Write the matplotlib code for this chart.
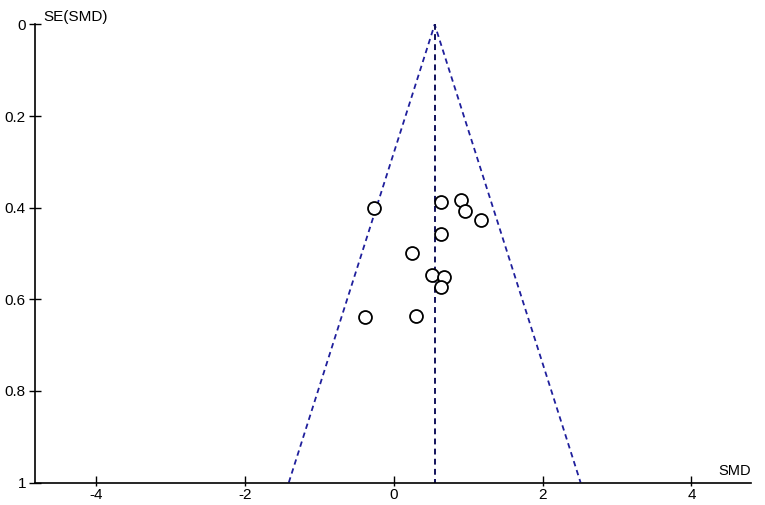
import matplotlib.pyplot as plt

plt.rcParams['font.family'] = ['Liberation Sans', 'DejaVu Sans']

# study effects (SMD) and their standard errors
smd = [-0.27, 0.63, 0.90, 0.96, 1.17, 0.63, 0.24, 0.52, 0.67, 0.63, -0.39, 0.30]
se = [0.401, 0.387, 0.384, 0.408, 0.427, 0.457, 0.500, 0.546, 0.552, 0.574, 0.638, 0.636]
pooled = 0.55
se_max = 1.0

xticks = [-4, -2, 0, 2, 4]
yticks = [0, 0.2, 0.4, 0.6, 0.8, 1]
ylabels = ['0', '0.2', '0.4', '0.6', '0.8', '1']

fig = plt.figure(figsize=(7.65, 5.05), dpi=100)
ax = fig.add_axes([35 / 765, 22.5 / 505, 716 / 765, 458 / 505])

# funnel (95% limits) and pooled estimate
ax.plot([pooled - 1.96 * se_max, pooled, pooled + 1.96 * se_max], [se_max, 0, se_max],
        color='#1f1f9c', ls=(0, (3, 2.2)), lw=1.3)
ax.plot([pooled, pooled], [0, se_max], color='#10105a', ls=(0, (3, 2.2)), lw=1.4)

ax.plot(smd, se, 'o', mfc='white', mec='black', mew=1.3, ms=9.3, ls='none')

ax.set_xlim(-4.82, 4.8)
ax.set_ylim(1, 0)
ax.set_xticks(xticks)
ax.set_xticklabels([str(v) for v in xticks])
ax.set_xticks(xticks, minor=True)
ax.xaxis.remove_overlapping_locs = False
ax.set_yticks(yticks)
ax.set_yticklabels(ylabels)
ax.tick_params(axis='x', which='major', direction='in', length=5, width=1, labelsize=11, pad=4)
ax.tick_params(axis='x', which='minor', direction='out', length=2.2, width=1)
ax.tick_params(axis='y', direction='inout', length=8, width=1, labelsize=11, pad=2.5)
ax.spines['top'].set_visible(False)
ax.spines['right'].set_visible(False)
ax.spines['left'].set_linewidth(1.2)
ax.spines['bottom'].set_linewidth(1.2)

fig.text(43 / 765, 1 - 17 / 505, 'SE(SMD)', fontsize=11, va='center', ha='left')
fig.text(751 / 765, 1 - 471 / 505, 'SMD', fontsize=10.5, va='center', ha='right')

fig.savefig('out.png', dpi=100)
